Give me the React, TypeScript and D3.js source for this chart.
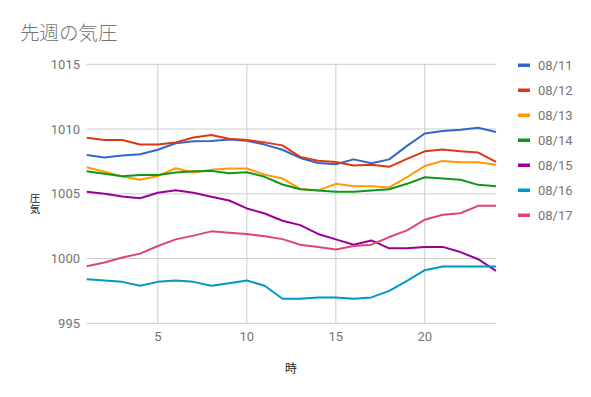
import React from "react";
import * as d3 from "d3";

const hours = d3.range(1, 25);
const seriesNames = ["08/11", "08/12", "08/13", "08/14", "08/15", "08/16", "08/17"];
const colors = ["#3366cc", "#dc3912", "#ff9900", "#109618", "#990099", "#0099c6", "#dd4477"];

const s0811 = [1008.0, 1007.8, 1007.95, 1008.05, 1008.4, 1008.9, 1009.05, 1009.07, 1009.2, 1009.1, 1008.8, 1008.4, 1007.77, 1007.38, 1007.28, 1007.66, 1007.36, 1007.66, 1008.7, 1009.66, 1009.85, 1009.95, 1010.1, 1009.77];
const s0812 = [1009.33, 1009.15, 1009.15, 1008.8, 1008.8, 1008.97, 1009.35, 1009.54, 1009.25, 1009.15, 1008.97, 1008.74, 1007.85, 1007.56, 1007.46, 1007.18, 1007.25, 1007.08, 1007.7, 1008.28, 1008.43, 1008.28, 1008.18, 1007.46];
const s0813 = [1007.05, 1006.7, 1006.33, 1006.08, 1006.38, 1006.97, 1006.64, 1006.85, 1006.95, 1006.95, 1006.48, 1006.18, 1005.38, 1005.25, 1005.77, 1005.59, 1005.59, 1005.49, 1006.28, 1007.15, 1007.54, 1007.43, 1007.43, 1007.25];
const s0814 = [1006.74, 1006.54, 1006.36, 1006.46, 1006.46, 1006.64, 1006.74, 1006.77, 1006.59, 1006.67, 1006.31, 1005.72, 1005.35, 1005.25, 1005.15, 1005.15, 1005.25, 1005.35, 1005.77, 1006.28, 1006.18, 1006.08, 1005.69, 1005.59];
const s0815 = [1005.15, 1005.0, 1004.79, 1004.66, 1005.08, 1005.28, 1005.08, 1004.77, 1004.48, 1003.87, 1003.48, 1002.92, 1002.58, 1001.9, 1001.48, 1001.07, 1001.4, 1000.79, 1000.79, 1000.9, 1000.9, 1000.5, 999.95, 999.05];
const s0816 = [998.4, 998.3, 998.2, 997.9, 998.2, 998.3, 998.2, 997.9, 998.1, 998.3, 997.9, 996.9, 996.9, 997.0, 997.0, 996.9, 997.0, 997.5, 998.28, 999.1, 999.38, 999.38, 999.38, 999.38];
const s0817 = [999.4, 999.69, 1000.08, 1000.38, 1000.97, 1001.48, 1001.77, 1002.1, 1002.0, 1001.9, 1001.72, 1001.5, 1001.07, 1000.9, 1000.7, 1000.97, 1001.07, 1001.66, 1002.18, 1003.0, 1003.38, 1003.5, 1004.07, 1004.07];

const seriesValues = [s0811, s0812, s0813, s0814, s0815, s0816, s0817];
const xTicks = [5, 10, 15, 20];
const yTicks = [995, 1000, 1005, 1010, 1015];

const title = "先週の気圧";
const yLabel = "気圧";
const xLabel = "時";

export default function App() {
  const W = 591, H = 397;
  const x = d3.scaleLinear().domain([1, 24]).range([86.7, 496]);
  const y = d3.scaleLinear().domain([995, 1015]).range([323.3, 64.3]);
  const line = d3.line<number>().x((_, i) => x(hours[i])).y((v) => y(v));
  const grey = "#757575";
  const numFont = "Roboto, 'Noto Sans', sans-serif";
  const cjkFont = "'Noto Sans CJK JP', sans-serif";
  return (
    <svg width={W} height={H} style={{ position: "absolute", left: 0, top: 0, background: "#fff" }}>
      <text x={20} y={40} fontSize={19.5} fill={grey} fontFamily={cjkFont} fontWeight={300}>{title}</text>
      {yTicks.map((t) => (
        <g key={t}>
          <line x1={x(1)} x2={x(24)} y1={y(t)} y2={y(t)} stroke="#cccccc" strokeWidth={1} />
          <text x={80} y={y(t) + 4.5} textAnchor="end" fontSize={13} fill={grey} fontFamily={numFont}>{t}</text>
        </g>
      ))}
      {xTicks.map((t) => (
        <g key={t}>
          <line x1={x(t)} x2={x(t)} y1={y(1015)} y2={y(995)} stroke="#cccccc" strokeWidth={1} />
          <text x={x(t)} y={341} textAnchor="middle" fontSize={13} fill={grey} fontFamily={numFont}>{t}</text>
        </g>
      ))}
      {seriesValues.map((vals, i) => (
        <path key={i} d={line(vals) || ""} fill="none" stroke={colors[i]} strokeWidth={2} strokeLinejoin="round" />
      ))}
      <text
        x={35}
        y={203.5}
        textAnchor="middle"
        fontSize={10.5}
        fill="#222"
        fontFamily={cjkFont}
        style={{ writingMode: "vertical-rl", direction: "rtl", unicodeBidi: "bidi-override" }}
      >
        {yLabel}
      </text>
      <text x={291} y={373} textAnchor="middle" fontSize={12} fill="#222" fontFamily={cjkFont}>{xLabel}</text>
      {seriesNames.map((n, i) => (
        <g key={n}>
          <rect x={518} y={63.5 + i * 25} width={12} height={3.5} fill={colors[i]} />
          <text x={538} y={69.5 + i * 25} fontSize={13} fill={grey} fontFamily={numFont}>{n}</text>
        </g>
      ))}
    </svg>
  );
}
